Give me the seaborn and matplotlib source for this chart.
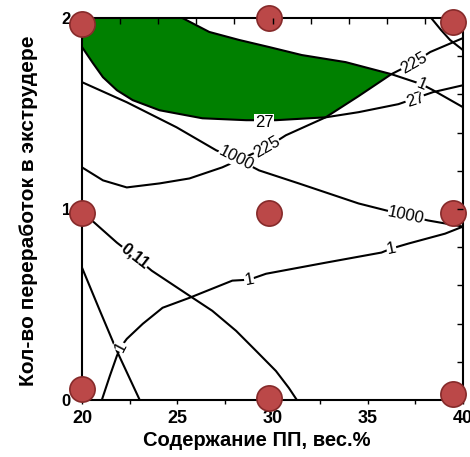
import numpy as np
import pandas as pd
import matplotlib
matplotlib.use("Agg")
import matplotlib.pyplot as plt
import seaborn as sns

# ---- données ----
# contour "1" (bord supérieur de la zone verte)
c1_top_x = [25.27, 26.68, 28.25, 29.82, 31.54, 33.84, 36.24, 37.81, 38.43, 40.0]
c1_top_y = [2.0, 1.927, 1.885, 1.848, 1.806, 1.769, 1.706, 1.654, 1.622, 1.533]

# contour "27"
c27_x = [20.0, 20.57, 21.10, 21.83, 22.66, 24.07, 26.32, 28.62, 30.18, 32.79, 34.52, 36.61, 38.43, 40.0]
c27_y = [1.848, 1.764, 1.690, 1.622, 1.570, 1.517, 1.475, 1.465, 1.465, 1.480, 1.507, 1.549, 1.612, 1.648]

# contour "225"
c225_x = [20.0, 21.10, 22.35, 24.07, 25.64, 27.36, 29.71, 30.70, 32.79, 34.52, 36.24, 37.39, 38.28, 40.0]
c225_y = [1.218, 1.150, 1.113, 1.134, 1.160, 1.218, 1.323, 1.386, 1.480, 1.591, 1.706, 1.764, 1.822, 1.895]

# contour "1000"
c1000_x = [20.0, 22.35, 24.96, 27.05, 28.09, 29.30, 31.38, 34.52, 37.02, 38.17, 40.0]
c1000_y = [1.664, 1.559, 1.428, 1.307, 1.265, 1.202, 1.134, 1.029, 0.966, 0.940, 0.908]

# contour "1" (bas)
c1_low_x = [21.04, 21.46, 21.83, 22.04, 22.35, 23.19, 24.23, 25.64, 27.89, 28.77, 29.66, 32.79, 35.72,
            36.24, 37.13, 39.06, 40.0]
c1_low_y = [0.0, 0.126, 0.231, 0.278, 0.320, 0.399, 0.483, 0.535, 0.625, 0.630, 0.661, 0.719, 0.772,
            0.793, 0.819, 0.871, 0.908]

# contour "0,11"
c011_x = [20.0, 20.52, 21.83, 22.77, 23.66, 25.64, 26.84, 28.09, 29.14, 30.18, 30.86, 31.28]
c011_y = [0.997, 0.940, 0.824, 0.751, 0.677, 0.546, 0.467, 0.362, 0.257, 0.152, 0.063, 0.0]

# lignes sans étiquette
cline_x = [20.0, 20.94, 21.83, 23.03]
cline_y = [0.693, 0.467, 0.257, 0.0]
carc_x = [38.33, 38.85, 39.32, 40.0]
carc_y = [2.0, 1.937, 1.885, 1.832]

# étiquettes des contours : texte, x, y, rotation
lab_text = ["27", "27", "1", "225", "225", "1000", "1000", "0,11", "1", "1", "1"]
lab_x = [29.56, 37.49, 37.81, 29.71, 37.44, 28.09, 37.02, 22.77, 22.04, 28.77, 36.24]
lab_y = [1.454, 1.570, 1.654, 1.323, 1.764, 1.265, 0.966, 0.751, 0.278, 0.630, 0.793]
lab_rot = [0, 18, -22, 30, 30, -27, -12, -38, 62, 10, 12]

# points d'expérience
pts_x = [20.0, 20.0, 20.0, 29.8, 29.8, 29.8, 39.5, 39.5, 39.5]
pts_y = [0.06, 0.98, 1.97, 0.01, 0.98, 2.0, 0.03, 0.98, 1.98]

# ---- tracé ----
sns.set_style("white")
plt.rcParams['font.family'] = ['Liberation Sans', 'DejaVu Sans']
plt.rcParams['text.color'] = 'black'
plt.rcParams['axes.labelcolor'] = 'black'
plt.rcParams['xtick.color'] = 'black'
plt.rcParams['ytick.color'] = 'black'

fig = plt.figure(figsize=(4.7, 4.57), dpi=100)
ax = fig.add_axes([0.1745, 0.1247, 0.8106, 0.8359])

curves = {"c1_top": (c1_top_x, c1_top_y), "c27": (c27_x, c27_y), "c225": (c225_x, c225_y),
          "c1000": (c1000_x, c1000_y), "c1_low": (c1_low_x, c1_low_y), "c011": (c011_x, c011_y),
          "cline": (cline_x, cline_y), "carc": (carc_x, carc_y)}
df = pd.concat([pd.DataFrame({"x": cx, "y": cy, "curve": name}) for name, (cx, cy) in curves.items()])

# zone verte : haut du cadre, contour "1", contour "225", contour "27"
t_x, t_y = np.array(c1_top_x), np.array(c1_top_y)
m_x, m_y = np.array(c225_x), np.array(c225_y)
b_x, b_y = np.array(c27_x), np.array(c27_y)
apex = 36.24
cross = 32.79
top = t_x <= apex
mid = (m_x >= cross) & (m_x < apex)
bot = b_x <= cross
poly_x = np.concatenate([[20.0], t_x[top], m_x[mid][::-1], b_x[bot][::-1]])
poly_y = np.concatenate([[2.0], t_y[top], m_y[mid][::-1], b_y[bot][::-1]])
ax.fill(poly_x, poly_y, color="#008000", zorder=1, lw=0)

sns.lineplot(data=df, x="x", y="y", units="curve", estimator=None, sort=False,
             color="black", lw=1.5, ax=ax, zorder=2, legend=False)

for t, x, y, r in zip(lab_text, lab_x, lab_y, lab_rot):
    ax.text(x, y, t, rotation=r, ha="center", va="center", fontsize=12, zorder=3,
            rotation_mode="anchor", fontweight="bold" if t == "0,11" else "normal",
            bbox=dict(facecolor="white", edgecolor="none", pad=0.2))

sns.scatterplot(x=pts_x, y=pts_y, s=330, color="#bb4848", edgecolor="#862a2a",
                linewidth=1.2, ax=ax, zorder=5, clip_on=False)

ax.set_xlim(20, 40)
ax.set_ylim(0, 2)
ax.set_xticks([20, 25, 30, 35, 40])
ax.set_xticks(np.arange(22.5, 40, 2.5), minor=True)
ax.set_yticks([0, 1, 2])
ax.tick_params(axis="x", which="both", direction="out", length=3, width=1, pad=4,
               labelsize=13, bottom=True)
ax.tick_params(axis="y", length=0, pad=8, labelsize=12)
plt.setp(ax.get_xticklabels() + ax.get_yticklabels(), fontweight="bold")

# graduations intérieures en haut et à droite (au-dessus de la zone verte)
ax_top = ax.twiny()
ax_top.set_xlim(20, 40)
ax_top.set_xticks(np.arange(22, 39, 2))
ax_top.tick_params(direction="in", length=4, width=1, labeltop=False, top=True)
ax_right = ax.twinx()
ax_right.set_ylim(0, 2)
ax_right.set_yticks(np.arange(0.2, 2.0, 0.2))
ax_right.tick_params(direction="in", length=4, width=1, labelright=False, right=True)
for a in (ax_top, ax_right):
    a.set_zorder(ax.get_zorder() + 1)
    a.patch.set_visible(False)
    for sp in a.spines.values():
        sp.set_visible(False)

for sp in ax.spines.values():
    sp.set_color("black")
    sp.set_linewidth(1.5)

ax.set_xlabel("Содержание ПП, вес.%", fontsize=14.5, fontweight="bold")
ax.set_ylabel("Кол-во переработок в экструдере", fontsize=15, fontweight="bold")
ax.xaxis.set_label_coords(0.459, -0.082)
ax.yaxis.set_label_coords(-0.115, 0.496)

fig.savefig("out.png", dpi=100)
